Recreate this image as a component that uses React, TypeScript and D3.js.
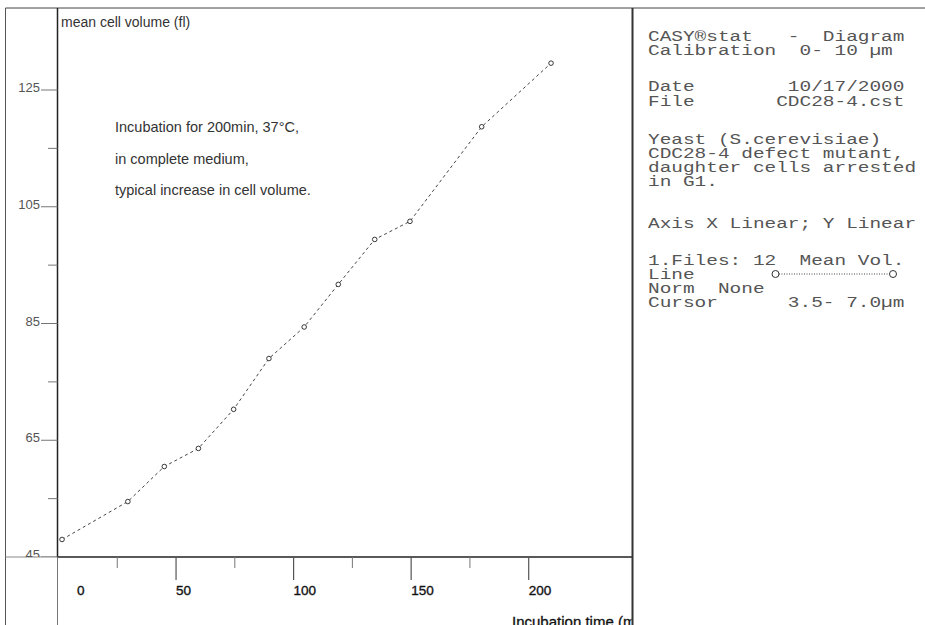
import React from 'react';
import * as d3 from 'd3';

// incubation time (min) and mean cell volume (fl)
const times = [1.5, 29.5, 45, 59.5, 74.5, 89.5, 104.5, 119, 134.5, 149.5, 180, 209.5];
const volumes = [48.0, 54.5, 60.5, 63.6, 70.3, 79.0, 84.4, 91.7, 99.4, 102.5, 118.7, 129.6];

const yMajor = [45, 65, 85, 105, 125];
const yMinor = [55, 75, 95, 115];
const xMajor = [0, 50, 100, 150, 200];
const xMinor = [25, 75, 125, 175];

const notes = [
    'Incubation for 200min, 37°C,',
    'in complete medium,',
    'typical increase in cell volume.',
];

const infoLines = [
    'CASY®stat   -  Diagram',
    'Calibration  0- 10 µm',
    'Date        10/17/2000',
    'File       CDC28-4.cst',
    'Yeast (S.cerevisiae)',
    'CDC28-4 defect mutant,',
    'daughter cells arrested',
    'in G1.',
    'Axis X Linear; Y Linear',
    '1.Files: 12  Mean Vol.',
    'Line',
    'Norm  None',
    'Cursor      3.5- 7.0µm',
];

const W = 925;
const H = 625;
const FRAME = { left: 5.5, top: 8, axisX: 57.5, axisY: 557, panel: 632.5 };
const INFO_Y = [41, 55, 91, 106, 144, 158, 172, 186, 228, 265, 279, 293, 307];
const NOTE_Y = [132, 164, 195];
const SANS = 'Arial, "Liberation Sans", sans-serif';
const MONO = '"Courier New", "Liberation Mono", monospace';

export default function App() {
    const x = d3.scaleLinear().domain([0, 200]).range([58.5, 528.7]);
    const y = d3.scaleLinear().domain([45, 125]).range([FRAME.axisY, 90]);

    const path = d3.line<number>()
        .x((_, i) => x(times[i]))
        .y(d => y(d))(volumes) || '';

    return (
        <svg width={W} height={H} style={{ position: 'fixed', left: 0, top: 0, background: '#fff' }}>
            <defs>
                <clipPath id="plotClip">
                    <rect x={0} y={0} width={FRAME.panel - 1} height={FRAME.axisY} />
                </clipPath>
                <clipPath id="leftClip">
                    <rect x={0} y={0} width={FRAME.panel - 1} height={H} />
                </clipPath>
            </defs>

            {/* frame */}
            <line x1={FRAME.left} x2={W} y1={FRAME.top} y2={FRAME.top} stroke="#444" />
            <line x1={FRAME.left} x2={FRAME.left} y1={FRAME.top} y2={H} stroke="#555" />
            <line x1={FRAME.left} x2={FRAME.axisX} y1={FRAME.axisY} y2={FRAME.axisY} stroke="#888" />
            <line x1={FRAME.axisX} x2={FRAME.panel} y1={FRAME.axisY} y2={FRAME.axisY} stroke="#222" strokeWidth={1.5} />
            <line x1={FRAME.axisX} x2={FRAME.axisX} y1={FRAME.top} y2={FRAME.axisY} stroke="#222" strokeWidth={1.5} />
            <line x1={FRAME.axisX} x2={FRAME.axisX} y1={FRAME.axisY} y2={H} stroke="#777" />
            <line x1={FRAME.panel} x2={FRAME.panel} y1={FRAME.top} y2={H} stroke="#333" strokeWidth={2} />

            {/* y axis */}
            <g clipPath="url(#plotClip)">
                {yMajor.map(v => (
                    <g key={v}>
                        <line x1={41} x2={FRAME.axisX} y1={y(v)} y2={y(v)} stroke="#777" />
                        <text x={40} y={y(v) + 2} textAnchor="end" fontFamily={SANS} fontSize={13} fill="#555">{v}</text>
                    </g>
                ))}
            </g>
            {yMinor.map(v => (
                <line key={v} x1={48} x2={FRAME.axisX} y1={y(v)} y2={y(v)} stroke="#777" />
            ))}
            <text x={61} y={27} fontFamily={SANS} fontSize={14} fill="#333">mean cell volume (fl)</text>

            {/* x axis */}
            {xMajor.filter(v => v > 0).map(v => (
                <line key={v} x1={x(v)} x2={x(v)} y1={FRAME.axisY} y2={580} stroke="#555" strokeWidth={1.2} />
            ))}
            {xMinor.map(v => (
                <line key={v} x1={x(v)} x2={x(v)} y1={FRAME.axisY} y2={568} stroke="#777" />
            ))}
            {xMajor.map(v => (
                <text key={v} x={v === 0 ? x(v) + 18.5 : x(v)} y={595} fontFamily={SANS} fontSize={13.5}
                    fill="#111" stroke="#111" strokeWidth={0.35}>{v}</text>
            ))}
            <g clipPath="url(#leftClip)">
                <text x={512} y={627} fontFamily={SANS} fontSize={15} fill="#111" stroke="#111" strokeWidth={0.3}>
                    Incubation time (min)
                </text>
            </g>

            {/* notes */}
            {notes.map((t, i) => (
                <text key={t} x={115} y={NOTE_Y[i]} fontFamily={SANS} fontSize={14.5} fill="#333">{t}</text>
            ))}

            {/* series */}
            <path d={path} fill="none" stroke="#444" strokeWidth={1} strokeDasharray="3,3" />
            {volumes.map((v, i) => (
                <circle key={i} cx={x(times[i])} cy={y(v)} r={2.3} fill="#fff" stroke="#222" strokeWidth={0.9} />
            ))}

            {/* info panel */}
            <g transform="translate(648,0) scale(1.36,1)">
                {infoLines.map((t, i) => (
                    <text key={i} x={0} y={INFO_Y[i]} fontFamily={MONO} fontSize={14.3} fill="#555" style={{ whiteSpace: 'pre' }}>{t}</text>
                ))}
            </g>
            <line x1={779} x2={889.5} y1={274} y2={274} stroke="#444" strokeWidth={1} strokeDasharray="1,1.5" />
            <circle cx={775.5} cy={274} r={3.5} fill="#fff" stroke="#333" strokeWidth={1} />
            <circle cx={893} cy={274} r={3.5} fill="#fff" stroke="#333" strokeWidth={1} />
        </svg>
    );
}
